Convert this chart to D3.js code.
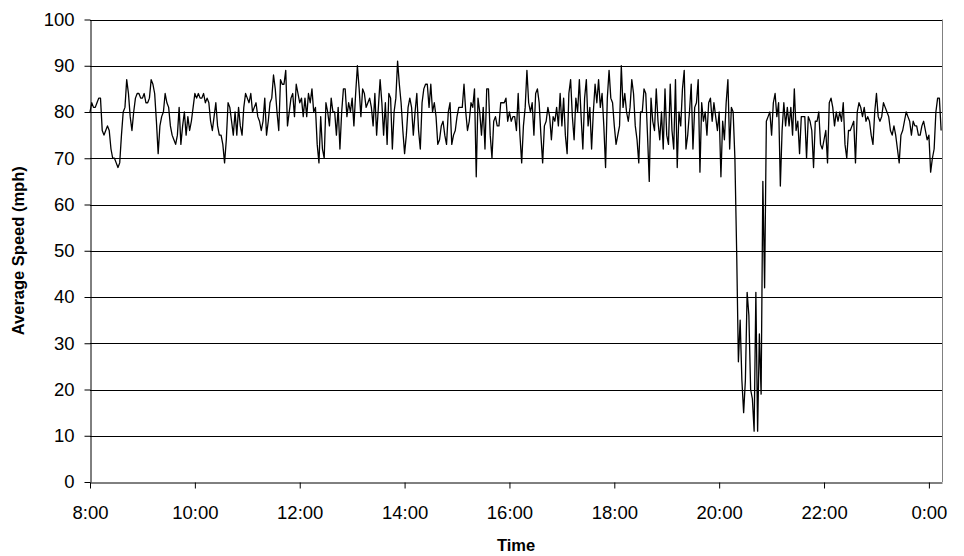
<!DOCTYPE html>
<html>
<head>
<meta charset="utf-8">
<script src="https://cdn.jsdelivr.net/npm/d3@7"></script>
<style>
  html, body { margin: 0; padding: 0; background: #fff; }
  svg { display: block; font-family: Arial, "Liberation Sans", sans-serif; }
</style>
</head>
<body>
<svg id="chart" width="964" height="556"></svg>
<script>
// Average speed readings, one every 2 minutes starting at 8:00.
const startMinute = 8 * 60;
const stepMinutes = 2;
const endMinute = 24 * 60 + 15;

const speeds = [
  // 8:00 - 9:36
  80,82,81,81,82,83,83,76,75,76,77,76,72,70,70,69,68,69,75,80,81,87,84,79,76,80,83,84,84,83,83,84,82,82,83,87,86,84,78,71,77,79,80,84,82,81,77,75,74,
  // 9:38 - 11:12
  73,75,81,73,77,80,75,79,76,78,81,84,83,84,83,83,84,82,83,82,78,76,79,82,77,75,75,73,69,74,82,81,78,75,80,75,81,77,75,81,84,83,82,84,80,81,82,79,
  // 11:14 - 12:50
  78,76,78,83,75,78,82,83,88,85,80,76,87,86,86,89,77,80,83,84,79,86,84,82,83,79,83,79,84,82,85,80,81,73,69,79,72,70,82,80,77,83,80,80,75,81,72,80,85,
  // 12:52 - 14:28
  85,79,82,80,83,77,84,90,85,79,85,84,81,82,83,81,77,84,75,81,87,82,75,82,73,84,83,72,80,83,91,86,82,76,71,75,81,83,81,75,80,84,76,72,82,85,86,86,81,
  // 14:30 - 16:06
  86,80,82,79,73,74,77,78,75,73,80,82,73,75,76,79,81,81,81,86,80,76,78,82,81,85,66,83,80,75,81,72,85,85,75,70,78,79,77,77,82,82,82,83,78,80,78,79,79,
  // 16:08 - 17:42
  76,84,75,69,77,81,89,82,80,82,75,84,85,82,75,69,77,78,81,79,74,79,78,81,77,84,77,83,75,71,84,87,79,74,83,80,87,79,72,83,87,77,81,72,80,86,82,87,
  // 17:44 - 19:20
  81,84,77,68,83,89,83,82,77,73,75,77,90,81,84,80,78,81,87,84,77,74,69,80,80,85,84,75,65,83,78,76,85,78,74,80,72,85,75,73,86,76,72,87,68,80,77,85,89,
  // 19:22 - 21:02 (incident around 20:05 - 20:40)
  72,75,80,86,72,81,82,87,67,82,78,80,75,82,83,78,82,79,76,80,66,78,74,82,87,72,81,80,70,50,26,35,22,15,22,41,36,20,18,11,41,11,32,19,65,42,78,79,80,75,82,
  // 21:04 - 22:34
  84,79,82,64,76,82,77,81,77,81,75,85,76,78,71,79,79,79,70,79,78,76,68,78,78,80,73,72,74,76,69,82,83,81,77,80,78,80,78,82,73,70,76,76,77,78,
  // 22:36 - 0:14
  69,80,82,81,79,81,78,79,78,75,73,80,84,79,78,79,82,81,80,79,76,75,77,75,72,69,75,76,78,80,79,78,75,78,77,77,75,75,77,78,76,74,75,67,70,72,80,83,83,76
];

const yTicks = [0, 10, 20, 30, 40, 50, 60, 70, 80, 90, 100];
const xTickMinutes = [480, 600, 720, 840, 960, 1080, 1200, 1320, 1440];
const xTickLabels = ["8:00", "10:00", "12:00", "14:00", "16:00", "18:00", "20:00", "22:00", "0:00"];

const series = speeds.map((v, i) => ({ t: startMinute + i * stepMinutes, v }));

const plot = { left: 90, right: 942, top: 19.5, bottom: 482 };

const svg = d3.select("#chart");

const x = d3.scaleLinear().domain([startMinute, endMinute]).range([plot.left, plot.right]);
const y = d3.scaleLinear().domain([0, 100]).range([plot.bottom, plot.top]);

// Horizontal gridlines
svg.append("g")
  .selectAll("line")
  .data(yTicks.filter(d => d > 0))
  .join("line")
  .attr("x1", plot.left).attr("x2", plot.right)
  .attr("y1", d => Math.round(y(d)) + 0.5).attr("y2", d => Math.round(y(d)) + 0.5)
  .attr("stroke", "#000").attr("stroke-width", 1);

// Right edge of the plot frame
svg.append("line")
  .attr("x1", plot.right + 0.5).attr("x2", plot.right + 0.5)
  .attr("y1", plot.top).attr("y2", plot.bottom)
  .attr("stroke", "#808080").attr("stroke-width", 1);

// Speed trace
const line = d3.line().x(d => x(d.t)).y(d => y(d.v));
svg.append("path")
  .datum(series)
  .attr("d", line)
  .attr("fill", "none")
  .attr("stroke", "#000")
  .attr("stroke-width", 1.3)
  .attr("stroke-linejoin", "round");

// Y axis
const yAxis = svg.append("g")
  .attr("transform", `translate(${plot.left + 0.5},0)`)
  .call(d3.axisLeft(y).tickValues(yTicks).tickSize(6).tickSizeOuter(0).tickPadding(10));
yAxis.selectAll("text").attr("font-size", 18.5).attr("fill", "#000").attr("font-family", "Arial, 'Liberation Sans', sans-serif");
yAxis.selectAll("line, path").attr("stroke", "#000");

// X axis
const xAxis = svg.append("g")
  .attr("transform", `translate(0,${Math.round(plot.bottom) + 0.5})`)
  .call(d3.axisBottom(x).tickValues(xTickMinutes).tickFormat((d, i) => xTickLabels[i]).tickSize(6).tickSizeOuter(0));
xAxis.selectAll("text").attr("font-size", 18.5).attr("fill", "#000")
  .attr("font-family", "Arial, 'Liberation Sans', sans-serif")
  .attr("y", 36.5).attr("dy", 0);
xAxis.selectAll("line, path").attr("stroke", "#000");

// Axis titles
svg.append("text")
  .attr("x", (plot.left + plot.right) / 2).attr("y", 551)
  .attr("text-anchor", "middle")
  .attr("font-size", 16.5).attr("font-weight", "bold")
  .text("Time");

svg.append("text")
  .attr("transform", `translate(24,${(plot.top + plot.bottom) / 2}) rotate(-90)`)
  .attr("text-anchor", "middle")
  .attr("font-size", 16.5).attr("font-weight", "bold")
  .text("Average Speed (mph)");
</script>
</body>
</html>
